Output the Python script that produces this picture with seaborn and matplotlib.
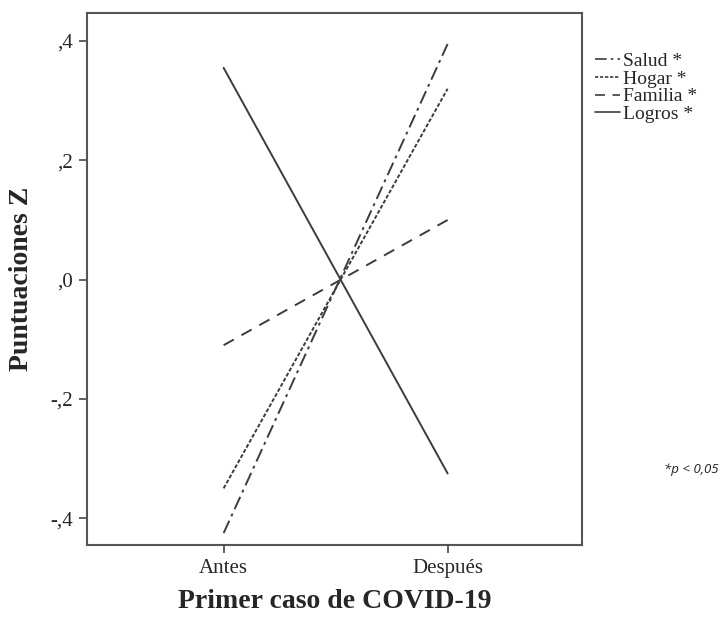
import matplotlib
matplotlib.use("Agg")
import matplotlib.pyplot as plt
import seaborn as sns
import pandas as pd

# Data
periods = ["Antes", "Después"]
series_names = ["Salud *", "Hogar *", "Familia *", "Logros *"]
salud = [-0.425, 0.395]
hogar = [-0.35, 0.32]
familia = [-0.11, 0.10]
logros = [0.355, -0.325]
y_ticks = [-0.4, -0.2, 0.0, 0.2, 0.4]
y_ticklabels = ["-,4", "-,2", ",0", ",2", ",4"]

rows = []
for name, vals in zip(series_names, [salud, hogar, familia, logros]):
    for i, (p, v) in enumerate(zip(periods, vals)):
        rows.append({"pos": i, "Periodo": p, "Z": v, "Variable": name})
df = pd.DataFrame(rows)

sns.set_theme(style="white")
plt.rcParams["font.family"] = ["Liberation Serif", "DejaVu Serif"]

fig = plt.figure(figsize=(7.22, 6.19), dpi=100)
ax = fig.add_axes([87/722, 1-545/619, (582-87)/722, (545-13)/619])

line_color = "#3c3c3c"
dashes = {
    "Salud *": (7, 2.5, 1.5, 2.5),
    "Hogar *": (2, 1),
    "Familia *": (6, 4.5),
    "Logros *": "",
}
sns.lineplot(data=df, x="pos", y="Z", style="Variable", style_order=series_names,
             dashes=dashes, color=line_color, linewidth=1.4, ax=ax, legend=True,
             markers=False)

ax.set_xlim(-0.61, 1.6)
ax.set_ylim(-0.445, 0.447)
ax.set_xticks([0, 1])
ax.set_xticklabels(periods, fontsize=15)
ax.set_yticks(y_ticks)
ax.set_yticklabels(y_ticklabels, fontsize=15)
ax.tick_params(axis="both", direction="out", length=6, width=1.3, color="#555555",
               left=True, bottom=True, pad=4)
for s in ax.spines.values():
    s.set_color("#555555")
    s.set_linewidth(1.5)

ax.set_xlabel("Primer caso de COVID-19", fontsize=20, fontweight="bold", labelpad=8)
ax.set_ylabel("Puntuaciones Z", fontsize=20, fontweight="bold", labelpad=12)

leg = ax.legend(loc="upper left", bbox_to_anchor=(0.995, 0.955), frameon=False,
                fontsize=14, handlelength=1.3, handletextpad=0.15,
                labelspacing=0.0, borderaxespad=0.4)
for h in leg.get_lines():
    h.set_color(line_color)
    h.set_linewidth(1.2)

fig.text(664/722, 1-470/619, "*p < 0,05", fontsize=9.5, style="italic",
         family=["Open Sans", "DejaVu Sans"], color="#222222", va="center",
         ha="left")

fig.savefig("out.png", dpi=100, facecolor="white")
